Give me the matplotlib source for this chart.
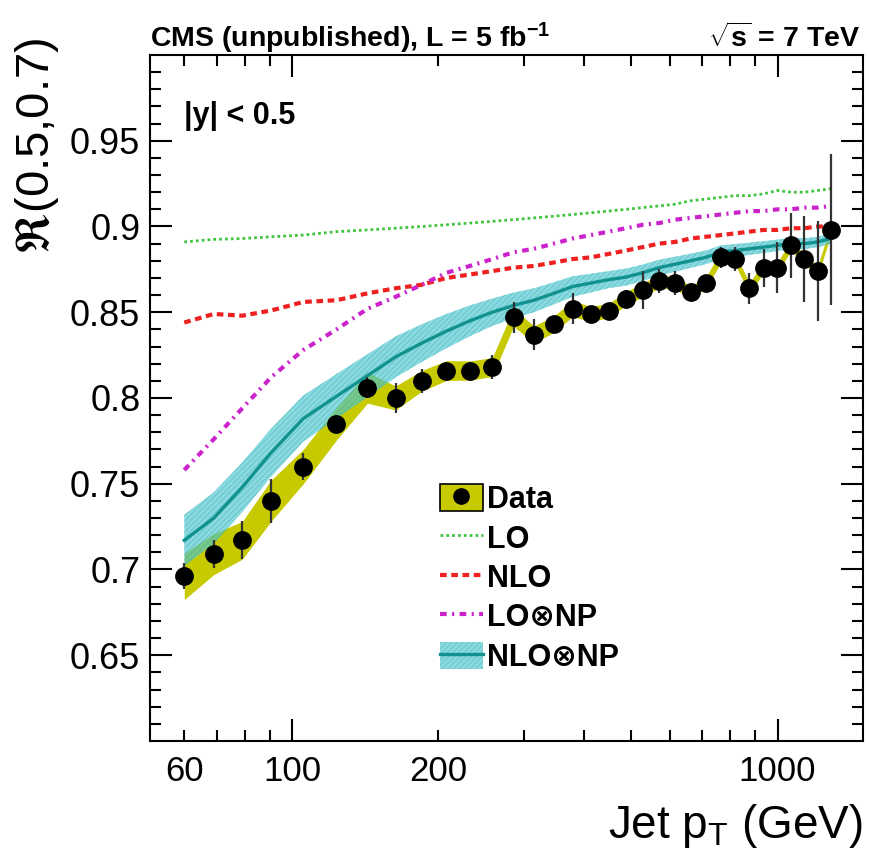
import numpy as np
import matplotlib
matplotlib.use("Agg")
import matplotlib.pyplot as plt
from matplotlib.patches import Patch
from matplotlib.lines import Line2D
from matplotlib.ticker import FixedLocator, FuncFormatter

# ---- data ----
pt = [60, 69, 79, 90.5, 105.5, 123.5, 143, 163.5, 185, 208, 232.5, 258.5, 286,
      315, 346, 378.5, 412.5, 449, 487.5, 527.5, 570, 615, 662, 711.5, 763.5,
      818, 875.5, 936, 999.5, 1066.5, 1136.5, 1210, 1287.5]

data = [0.696, 0.709, 0.717, 0.740, 0.760, 0.785, 0.806, 0.800, 0.810, 0.816,
        0.816, 0.818, 0.847, 0.837, 0.843, 0.852, 0.849, 0.851, 0.858, 0.863,
        0.868, 0.867, 0.862, 0.867, 0.882, 0.881, 0.864, 0.876, 0.876, 0.889,
        0.881, 0.874, 0.898]
data_stat = [0.0075, 0.008, 0.011, 0.013, 0.008, 0.005, 0.006, 0.009, 0.007,
             0.004, 0.005, 0.007, 0.009, 0.009, 0.005, 0.009, 0.004, 0.004,
             0.005, 0.011, 0.007, 0.007, 0.005, 0.005, 0.006, 0.007, 0.009,
             0.011, 0.015, 0.019, 0.025, 0.029, 0.044]
data_sys = [0.0135, 0.012, 0.011, 0.012, 0.010, 0.0095, 0.009, 0.007, 0.006,
            0.0058, 0.0056, 0.0055, 0.0052, 0.005, 0.0048, 0.0046, 0.0044,
            0.0042, 0.004, 0.004, 0.0038, 0.0036, 0.0035, 0.0034, 0.0033,
            0.0032, 0.0032, 0.0031, 0.003, 0.003, 0.003, 0.003, 0.003]

lo = [0.891, 0.8925, 0.893, 0.894, 0.895, 0.897, 0.898, 0.899, 0.900, 0.901,
      0.902, 0.903, 0.904, 0.905, 0.906, 0.907, 0.908, 0.909, 0.910, 0.911,
      0.912, 0.913, 0.915, 0.916, 0.917, 0.918, 0.918, 0.919, 0.921, 0.920,
      0.920, 0.921, 0.922]
nlo = [0.844, 0.849, 0.848, 0.851, 0.856, 0.857, 0.861, 0.864, 0.866, 0.870,
       0.872, 0.874, 0.876, 0.877, 0.879, 0.881, 0.882, 0.884, 0.886, 0.888,
       0.890, 0.891, 0.893, 0.894, 0.895, 0.896, 0.897, 0.898, 0.898, 0.899,
       0.899, 0.900, 0.900]
lo_np = [0.758, 0.776, 0.794, 0.812, 0.828, 0.840, 0.852, 0.859, 0.866, 0.873,
         0.877, 0.881, 0.885, 0.887, 0.890, 0.893, 0.895, 0.897, 0.899, 0.901,
         0.902, 0.904, 0.905, 0.906, 0.907, 0.908, 0.909, 0.909, 0.910, 0.910,
         0.911, 0.911, 0.912]
nlo_np = [0.717, 0.730, 0.748, 0.768, 0.788, 0.801, 0.813, 0.824, 0.832, 0.839,
          0.845, 0.850, 0.854, 0.857, 0.861, 0.865, 0.867, 0.869, 0.8705, 0.873,
          0.876, 0.878, 0.880, 0.882, 0.885, 0.886, 0.887, 0.888, 0.889, 0.890,
          0.890, 0.891, 0.893]
nlo_np_unc = [0.015, 0.015, 0.0145, 0.014, 0.0135, 0.013, 0.0125, 0.012, 0.011,
              0.010, 0.009, 0.008, 0.0075, 0.007, 0.0065, 0.006, 0.0055, 0.005,
              0.005, 0.0048, 0.0046, 0.0044, 0.0042, 0.004, 0.004, 0.0038,
              0.0036, 0.0035, 0.0034, 0.0033, 0.0032, 0.0031, 0.003]

x_ticklabels = {60: "60", 100: "100", 200: "200", 1000: "1000"}

# colours
YELLOW = "#c8ca00"
CYAN = "#4cc6cf"
TEAL = "#11928f"

plt.rcParams["font.family"] = ["Liberation Sans", "DejaVu Sans"]
plt.rcParams["mathtext.fontset"] = "custom"
plt.rcParams["mathtext.rm"] = "Liberation Sans"
plt.rcParams["mathtext.bf"] = "Liberation Sans:bold"
plt.rcParams["mathtext.it"] = "Liberation Sans:italic"
plt.rcParams["hatch.linewidth"] = 0.4

W, H = 869, 859
fig = plt.figure(figsize=(W / 100, H / 100), dpi=100)
L, R, T, B = 150, 863, 55, 741
ax = fig.add_axes([L / W, 1 - B / H, (R - L) / W, (B - T) / H])

x = np.array(pt)
d = np.array(data)
sys = np.array(data_sys)
nnp = np.array(nlo_np)
nnp_u = np.array(nlo_np_unc)

# data systematic band
ax.fill_between(x, d - sys, d + sys, color=YELLOW, lw=0, zorder=1)
# NLO x NP band
ax.fill_between(x, nnp - nnp_u, nnp + nnp_u, facecolor=CYAN, alpha=0.65,
                edgecolor="#2aaab4", hatch="//////", lw=0, zorder=2)
ax.plot(x, nnp, color=TEAL, lw=2.4, zorder=3)

ax.plot(x, lo, color="#3ec43e", lw=2.0, ls=(0, (1, 1.1)), zorder=3)
ax.plot(x, nlo, color="#ee2020", lw=3.0, ls=(0, (1.6, 1.1)), zorder=3)
ax.plot(x, lo_np, color="#cc22cc", lw=3.0, ls=(0, (1.6, 1.3, 0.5, 1.3)), zorder=3)

ax.errorbar(x, d, yerr=data_stat, fmt="o", color="black", ms=12.5,
            elinewidth=1.6, ecolor="#333333", capsize=0, zorder=5)

# axes
ax.set_xscale("log")
ax.set_xlim(51, 1500)
ax.set_ylim(0.6, 1.0)

ax.xaxis.set_major_locator(FixedLocator([100, 1000]))
ax.xaxis.set_minor_locator(FixedLocator([60, 70, 80, 90, 200, 300, 400, 500,
                                         600, 700, 800, 900]))
fmt = FuncFormatter(lambda v, p: x_ticklabels.get(int(round(v)), ""))
ax.xaxis.set_major_formatter(fmt)
ax.xaxis.set_minor_formatter(fmt)

ax.yaxis.set_major_locator(FixedLocator(np.arange(0.65, 0.951, 0.05)))
ax.yaxis.set_minor_locator(FixedLocator(np.arange(0.61, 1.0, 0.01)))
ax.yaxis.set_major_formatter(FuncFormatter(lambda v, p: "%g" % round(v, 2)))

for s in ax.spines.values():
    s.set_linewidth(1.5)
ax.tick_params(which="both", direction="in", top=True, right=True, width=1.5)
ax.tick_params(which="major", length=16)
ax.tick_params(which="minor", length=8)
ax.tick_params(axis="y", which="both", labelsize=26, pad=7)
ax.tick_params(axis="x", which="both", labelsize=25, pad=10)

# texts
fig.text(L / W, 1 - 47 / H, r"CMS (unpublished), L = 5 fb$^{\mathbf{-1}}$",
         fontsize=20.5, fontweight="bold", ha="left", va="baseline")
fig.text(860 / W, 1 - 47 / H, r"$\mathbf{\sqrt{s}}$ = 7 TeV",
         fontsize=20.5, fontweight="bold", ha="right", va="baseline")
ax.text(0.048, 0.90, "|y| < 0.5", transform=ax.transAxes, fontsize=22,
        fontweight="bold", ha="left", va="baseline")
fig.text(863 / W, 1 - 838 / H, r"Jet p$_{\mathrm{T}}$ (GeV)", fontsize=33,
         ha="right", va="baseline")
fig.text(13 / W, 1 - 38 / H, r"$\mathfrak{R}$(0.5,0.7)", fontsize=34,
         rotation=90, ha="left", va="top", math_fontfamily="stix")

# legend
h_data = (Patch(facecolor=YELLOW, edgecolor="black", lw=1.2),
          Line2D([], [], marker="o", color="black", ls="none", ms=11))
h_lo = Line2D([], [], color="#3ec43e", lw=2.0, ls=(0, (1, 1.1)))
h_nlo = Line2D([], [], color="#ee2020", lw=3.0, ls=(0, (1.6, 1.1)))
h_lonp = Line2D([], [], color="#cc22cc", lw=3.0, ls=(0, (1.6, 1.3, 0.5, 1.3)))
h_nlonp = (Patch(facecolor=CYAN, alpha=0.65, edgecolor="#2aaab4",
                 hatch="//////", lw=0),
           Line2D([], [], color=TEAL, lw=2.4))
leg = fig.legend([h_data, h_lo, h_nlo, h_lonp, h_nlonp],
                 ["Data", "LO", "NLO", "LO⊗NP", "NLO⊗NP"],
                 loc="upper left", bbox_to_anchor=(440 / W, 1 - 484 / H),
                 frameon=False, borderpad=0, borderaxespad=0,
                 handlelength=1.4, handleheight=1.0, handletextpad=0.15,
                 labelspacing=0.27, prop={"size": 22, "weight": "bold"})

fig.savefig("out.png", dpi=100)
